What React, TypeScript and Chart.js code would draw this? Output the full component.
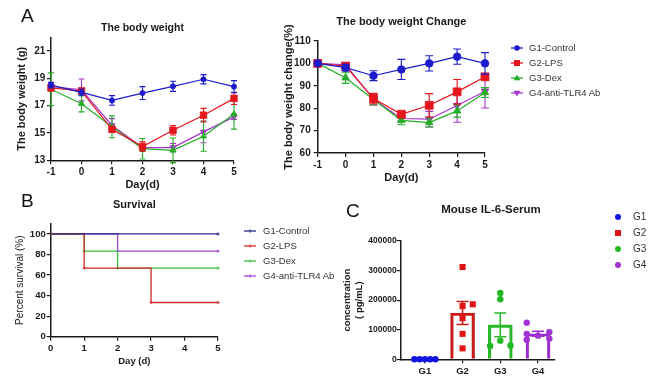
import React, { useEffect, useRef } from 'react';
import { Chart, registerables } from 'chart.js';

Chart.register(...registerables);

// ---------------- data ----------------
const days = [-1, 0, 1, 2, 3, 4, 5];
const groupLabels = ['G1-Control', 'G2-LPS', 'G3-Dex', 'G4-anti-TLR4 Ab'];

// body weight (g), mean and error
const weightG1 = [18.5, 17.97, 17.38, 17.92, 18.41, 18.93, 18.39];
const weightG1Err = [0.2, 0.25, 0.35, 0.47, 0.37, 0.34, 0.44];
const weightG2 = [18.3, 18.07, 15.27, 14.0, 15.2, 16.3, 17.53];
const weightG2Err = [0.2, 0.2, 0.2, 0.35, 0.35, 0.5, 0.45];
const weightG3 = [18.2, 17.14, 15.45, 13.85, 13.73, 14.76, 16.38];
const weightG3Err = [1.2, 0.6, 0.8, 0.75, 0.9, 1.1, 1.1];
const weightG4 = [18.4, 18.15, 15.55, 13.93, 13.93, 15.08, 16.18];
const weightG4Err = [0.2, 0.8, 0.5, 0.2, 0.3, 0.8, 0.2];

// body weight change (%)
const changeG1 = [100, 98.1, 94.5, 97.3, 100, 103, 100];
const changeG1Err = [0, 1.5, 2.2, 4.5, 3.4, 3.4, 4.8];
const changeG2 = [100, 98.8, 84.3, 77.3, 81.3, 87.3, 94];
const changeG2Err = [0, 1, 2.3, 1, 5.2, 5.5, 1];
const changeG3 = [100, 93.6, 83.9, 74.6, 73.6, 78.8, 87];
const changeG3Err = [0, 2.5, 2.5, 2, 2, 2.8, 2.2];
const changeG4 = [100, 99.4, 84, 75.4, 75.1, 81.2, 87.6];
const changeG4Err = [0, 1, 2.5, 1, 3.5, 7.5, 7.5];

// survival (%)
const survG1Days = [0, 5];
const survG1 = [100, 100];
const survG2Days = [0, 1, 3, 5];
const survG2 = [100, 66.7, 33.3, 33.3];
const survG3Days = [0, 1, 2, 5];
const survG3 = [100, 83.3, 66.7, 66.7];
const survG4Days = [0, 2, 5];
const survG4 = [100, 83.3, 83.3];

// IL-6 serum (pg/mL), individual animals + horizontal jitter (category units)
const il6Groups = ['G1', 'G2', 'G3', 'G4'];
const il6G1 = [0, 0, 0, 0, 0];
const il6G1Jit = [-0.28, -0.14, 0, 0.14, 0.28];
const il6G2 = [312000, 186000, 180000, 139000, 86000, 37000];
const il6G2Jit = [0, 0.27, 0, 0, 0, 0];
const il6G3 = [224000, 203000, 63000, 45000, 47000];
const il6G3Jit = [0, 0, 0, -0.27, 0.27];
const il6G4 = [124000, 92000, 86000, 80000, 70000, 66000];
const il6G4Jit = [-0.3, 0.3, -0.3, 0, 0.3, -0.3];

// ---------------- styles ----------------
const FONT = "'Liberation Sans', Arial, Helvetica, sans-serif";
const INK = '#1a1a1a';
const lineColors = ['#1c1ccc', '#e5161d', '#25ad25', '#a634cc'];
const pointStyles = ['circle', 'rect', 'triangle', 'triangle'];
const pointRots = [0, 0, 0, 180];
const survColors = ['#26268a', '#d42a2a', '#3dbd3d', '#a444d4'];
const il6Colors = ['#1414e0', '#e11414', '#22b822', '#a232d2'];
const il6BarColors = ['#1414e0', '#c81c1c', '#2ab82a', '#9b2ad0'];

// ---------------- helpers ----------------
function drawErrors(chart: any, index: number) {
  const ds: any = chart.data.datasets[index];
  if (!ds.err) return;
  const meta = chart.getDatasetMeta(index);
  const yScale = chart.scales[meta.yAxisID];
  const ctx = chart.ctx;
  ctx.save();
  ctx.lineWidth = ds.errWidth ?? 1.2;
  const cap = ds.errCap ?? 3;
  meta.data.forEach((el: any, i: number) => {
    const e = ds.err[i];
    if (!e) return;
    const v = meta.controller.getParsed(i).y;
    const x = el.x;
    const y1 = yScale.getPixelForValue(v + e);
    const y2 = yScale.getPixelForValue(v - e);
    const c = Array.isArray(ds.errColor) ? ds.errColor[i] : ds.errColor ?? ds.borderColor;
    ctx.strokeStyle = c;
    ctx.beginPath();
    ctx.moveTo(x, y1);
    ctx.lineTo(x, y2);
    ctx.moveTo(x - cap, y1);
    ctx.lineTo(x + cap, y1);
    ctx.moveTo(x - cap, y2);
    ctx.lineTo(x + cap, y2);
    ctx.stroke();
  });
  ctx.restore();
}

const errorBarsPlugin = {
  id: 'errorBars',
  beforeDatasetDraw(chart: any, args: any) {
    if (!chart.data.datasets[args.index].errAfter) drawErrors(chart, args.index);
  },
  afterDatasetDraw(chart: any, args: any) {
    if (chart.data.datasets[args.index].errAfter) drawErrors(chart, args.index);
  },
};

const fixedTicks = (values: number[]) => (scale: any) => {
  scale.ticks = values.map((v) => ({ value: v }));
};

function axisBase(tickSize: number, tickPad: number, tickWeight: string = 'bold') {
  return {
    border: { display: true, color: INK, width: 1.5 },
    grid: { display: true, drawOnChartArea: false, drawTicks: true, tickLength: 4, color: INK, lineWidth: 1.2, offset: false },
    ticks: { color: INK, font: { family: FONT, size: tickSize, weight: tickWeight }, padding: tickPad, maxRotation: 0 },
  };
}

function axisTitle(text: any, size: number, weight: string, padding: any, lineHeight = 1.2) {
  return { display: true, text, color: INK, font: { family: FONT, size, weight, lineHeight }, padding };
}

function lineSets(series: number[][], errs: number[][], radii: number[], cap: number) {
  return series.map((s, g) => ({
    label: groupLabels[g],
    data: days.map((d, i) => ({ x: d, y: s[i] })),
    err: errs[g],
    errCap: cap,
    errWidth: 1.1,
    borderColor: lineColors[g],
    backgroundColor: lineColors[g],
    borderWidth: 1.2,
    pointStyle: pointStyles[g],
    pointRotation: pointRots[g],
    pointRadius: radii[g],
    pointBorderWidth: 0.8,
    pointBackgroundColor: lineColors[g],
    pointBorderColor: lineColors[g],
    clip: false,
  }));
}

const baseOptions = {
  animation: false,
  responsive: false,
  events: [],
};

// ---------------- chart configs ----------------
function weightConfig() {
  return {
    type: 'line',
    data: {
      datasets: lineSets(
        [weightG1, weightG2, weightG3, weightG4],
        [weightG1Err, weightG2Err, weightG3Err, weightG4Err],
        [2.6, 4.6, 3.6, 3.6],
        3
      ),
    },
    plugins: [errorBarsPlugin],
    options: {
      ...baseOptions,
      layout: { padding: { left: 11, right: 16, top: 0, bottom: 0 } },
      plugins: {
        legend: { display: false },
        tooltip: { enabled: false },
        title: {
          display: true, text: 'The body weight', fullSize: false, color: INK,
          font: { family: FONT, size: 10.5, weight: 'bold' }, padding: { top: 21.7, bottom: 3 },
        },
      },
      scales: {
        x: {
          type: 'linear', min: -1, max: 5,
          ...axisBase(10, 2),
          ticks: { ...axisBase(10, 2).ticks, stepSize: 1 },
          afterFit: (s: any) => { s.height = 34.7; },
          title: axisTitle('Day(d)', 11, 'bold', { top: 0, bottom: 3.4 }),
        },
        y: {
          type: 'linear', min: 13, max: 22,
          ...axisBase(10, 1.7),
          afterBuildTicks: fixedTicks([13, 15, 17, 19, 21]),
          afterFit: (s: any) => { s.width = 40; },
          title: axisTitle('The body weight (g)', 11, 'bold', { top: 4.5, bottom: 0 }),
        },
      },
    },
  };
}

function changeConfig() {
  return {
    type: 'line',
    data: {
      datasets: lineSets(
        [changeG1, changeG2, changeG3, changeG4],
        [changeG1Err, changeG2Err, changeG3Err, changeG4Err],
        [3.8, 5.6, 4.4, 4.4],
        4
      ),
    },
    plugins: [errorBarsPlugin],
    options: {
      ...baseOptions,
      layout: { padding: { left: 30, right: 10, top: 0, bottom: 0 } },
      plugins: {
        legend: { display: false },
        tooltip: { enabled: false },
        title: {
          display: true, text: 'The body weight Change', fullSize: false, color: INK,
          font: { family: FONT, size: 11, weight: 'bold' }, padding: { top: 15.4, bottom: 12.4 },
        },
      },
      scales: {
        x: {
          type: 'linear', min: -1, max: 5,
          ...axisBase(10, 2),
          ticks: { ...axisBase(10, 2).ticks, stepSize: 1 },
          afterFit: (s: any) => { s.height = 42; },
          title: axisTitle('Day(d)', 11, 'bold', { top: 0, bottom: 10.4 }),
        },
        y: {
          type: 'linear', min: 60, max: 110,
          ...axisBase(10, 3),
          ticks: { ...axisBase(10, 3).ticks, stepSize: 10 },
          afterFit: (s: any) => { s.width = 42.7; },
          title: axisTitle('The body weight change(%)', 11, 'bold', { top: 7.4, bottom: 0 }),
        },
      },
    },
  };
}

function survivalConfig() {
  const xs = [survG1Days, survG2Days, survG3Days, survG4Days];
  const ys = [survG1, survG2, survG3, survG4];
  return {
    type: 'line',
    data: {
      datasets: ys.map((s, g) => ({
        label: groupLabels[g],
        data: s.map((v, i) => ({ x: xs[g][i], y: v })),
        stepped: 'before',
        borderColor: survColors[g],
        backgroundColor: survColors[g],
        borderWidth: 1.3,
        pointStyle: 'cross',
        pointRadius: s.map((_, i) => (i === 0 ? 0 : 1.6)),
        pointBorderWidth: 1,
        pointBorderColor: survColors[g],
        clip: false,
      })),
    },
    options: {
      ...baseOptions,
      layout: { padding: { left: 8, right: 27, top: 0, bottom: 0 } },
      plugins: {
        legend: { display: false },
        tooltip: { enabled: false },
        title: {
          display: true, text: 'Survival', fullSize: false, color: INK,
          font: { family: FONT, size: 11, weight: 'bold' }, padding: { top: 8.4, bottom: 12.1 },
        },
      },
      scales: {
        x: {
          type: 'linear', min: 0, max: 5,
          ...axisBase(9.5, 2),
          ticks: { ...axisBase(9.5, 2).ticks, stepSize: 1 },
          afterFit: (s: any) => { s.height = 49.3; },
          title: axisTitle('Day (d)', 9.5, 'bold', { top: 0, bottom: 19.3 }),
        },
        y: {
          type: 'linear', min: 0, max: 110,
          ...axisBase(9.5, 1),
          afterBuildTicks: fixedTicks([0, 20, 40, 60, 80, 100]),
          afterFit: (s: any) => { s.width = 42.7; },
          title: axisTitle('Percent survival (%)', 10, 'normal', { top: 6.7, bottom: 0 }),
        },
      },
    },
  };
}

function il6Config() {
  const pts = [il6G1, il6G2, il6G3, il6G4];
  const jit = [il6G1Jit, il6G2Jit, il6G3Jit, il6G4Jit];
  const shapes = ['circle', 'rect', 'circle', 'circle'];
  const means = pts.map((p) => p.reduce((a, b) => a + b, 0) / p.length);
  const sems = pts.map((p, g) => {
    const m = means[g];
    const sd = Math.sqrt(p.reduce((a, b) => a + (b - m) * (b - m), 0) / (p.length - 1));
    return sd / Math.sqrt(p.length);
  });
  return {
    type: 'bar',
    data: {
      datasets: [
        ...pts.map((p, g) => ({
          type: 'line',
          label: il6Groups[g],
          showLine: false,
          order: 0,
          data: p.map((v, i) => ({ x: g + 1 + jit[g][i], y: v })),
          pointStyle: shapes[g],
          pointRadius: g === 1 ? 4.3 : 3.2,
          pointBorderWidth: 0,
          pointBackgroundColor: il6Colors[g],
          pointBorderColor: il6Colors[g],
          borderColor: il6Colors[g],
          backgroundColor: il6Colors[g],
          clip: false,
        })),
        {
          type: 'bar',
          label: 'mean',
          order: 10,
          data: means.map((m, g) => ({ x: g + 1, y: m })),
          err: sems,
          errAfter: true,
          errCap: 6,
          errWidth: 1.6,
          errColor: il6BarColors,
          backgroundColor: 'rgba(255,255,255,0)',
          borderColor: il6BarColors,
          borderWidth: 2.5,
          barThickness: 24,
        },
      ],
    },
    plugins: [errorBarsPlugin],
    options: {
      ...baseOptions,
      layout: { padding: { left: 5, right: 5, top: 46, bottom: 0 } },
      plugins: { legend: { display: false }, tooltip: { enabled: false } },
      scales: {
        x: {
          type: 'linear', min: 0.36, max: 4.45, offset: false,
          ...axisBase(9.5, 2),
          ticks: { ...axisBase(9.5, 2).ticks, callback: (v: number) => il6Groups[v - 1] ?? '' },
          afterBuildTicks: fixedTicks([1, 2, 3, 4]),
          afterFit: (s: any) => { s.height = 26.7; },
        },
        y: {
          type: 'linear', min: 0, max: 400000,
          ...axisBase(8.5, 0),
          ticks: { ...axisBase(8.5, 0).ticks, stepSize: 100000, callback: (v: number) => String(v) },
          afterFit: (s: any) => { s.width = 65.7; },
          title: axisTitle(['concentration', '( pg/mL)'], 9.5, 'bold', { top: 5.6, bottom: 0 }, 1.35),
        },
      },
    },
  };
}

// ---------------- components ----------------
type Box = { left: number; top: number; width: number; height: number };

function ChartCanvas({ box, make }: { box: Box; make: () => any }) {
  const ref = useRef<HTMLCanvasElement | null>(null);
  useEffect(() => {
    if (!ref.current) return;
    const chart = new Chart(ref.current, make());
    return () => chart.destroy();
  }, []);
  return (
    <canvas
      ref={ref}
      width={box.width}
      height={box.height}
      style={{ position: 'absolute', left: box.left, top: box.top, width: box.width, height: box.height }}
    />
  );
}

function Marker({ g }: { g: number }) {
  const c = lineColors[g];
  let shape: any;
  if (g === 0) shape = <circle cx={7} cy={6} r={2.8} fill={c} />;
  else if (g === 1) shape = <rect x={4} y={3} width={6} height={6} fill={c} />;
  else if (g === 2) shape = <polygon points="7,2.5 10.3,8.3 3.7,8.3" fill={c} />;
  else shape = <polygon points="7,9.5 10.3,3.7 3.7,3.7" fill={c} />;
  return (
    <svg width={14} height={12} style={{ marginRight: 5, flex: 'none' }}>
      <line x1={1} y1={6} x2={13} y2={6} stroke={c} strokeWidth={1.3} />
      {shape}
    </svg>
  );
}

const legendText: React.CSSProperties = {
  position: 'absolute',
  height: 12,
  display: 'flex',
  alignItems: 'center',
  fontFamily: FONT,
  fontSize: 9.5,
  color: '#333',
  whiteSpace: 'nowrap',
  lineHeight: '12px',
};

function Letter({ text, left, top, size }: { text: string; left: number; top: number; size: number }) {
  return (
    <div style={{ position: 'absolute', left, top, fontFamily: FONT, fontSize: size, color: '#111', lineHeight: 'normal' }}>
      {text}
    </div>
  );
}

export default function App() {
  return (
    <div
      style={{
        position: 'absolute', left: 0, top: 0, width: 655, height: 386,
        background: '#fff', overflow: 'hidden', fontFamily: FONT,
      }}
    >
      <ChartCanvas box={{ left: 0, top: 0, width: 250, height: 195 }} make={weightConfig} />
      <ChartCanvas box={{ left: 245, top: 0, width: 250, height: 195 }} make={changeConfig} />
      <ChartCanvas box={{ left: 0, top: 190, width: 245, height: 196 }} make={survivalConfig} />
      <ChartCanvas box={{ left: 330, top: 195, width: 230, height: 191 }} make={il6Config} />

      <Letter text="A" left={21} top={4.5} size={19} />
      <Letter text="B" left={21} top={190} size={19} />
      <Letter text="C" left={346} top={200} size={19} />

      {groupLabels.map((name, g) => (
        <div key={'la' + g} style={{ ...legendText, left: 510, top: 42 + g * 15 }}>
          <Marker g={g} />
          <span>{name}</span>
        </div>
      ))}

      {groupLabels.map((name, g) => (
        <div key={'lb' + g} style={{ ...legendText, left: 243, top: 225 + g * 15 }}>
          <svg width={14} height={12} style={{ marginRight: 6, flex: 'none' }}>
            <line x1={1} y1={6} x2={13} y2={6} stroke={survColors[g]} strokeWidth={1.3} />
            <line x1={7} y1={4.3} x2={7} y2={7.7} stroke={survColors[g]} strokeWidth={1} />
          </svg>
          <span>{name}</span>
        </div>
      ))}

      <div
        style={{
          position: 'absolute', left: 391, top: 202, width: 200, textAlign: 'center',
          fontFamily: FONT, fontSize: 11.5, fontWeight: 'bold', color: INK, lineHeight: '14px',
        }}
      >
        Mouse IL-6-Serum
      </div>

      {il6Groups.map((name, g) => (
        <div key={'lc' + g} style={{ ...legendText, left: 613, top: 211 + g * 16, fontSize: 10 }}>
          <svg width={10} height={12} style={{ marginRight: 10, flex: 'none' }}>
            {g === 1 ? (
              <rect x={2} y={3} width={6} height={6} fill={il6Colors[g]} />
            ) : (
              <circle cx={5} cy={6} r={3} fill={il6Colors[g]} />
            )}
          </svg>
          <span>{name}</span>
        </div>
      ))}
    </div>
  );
}
